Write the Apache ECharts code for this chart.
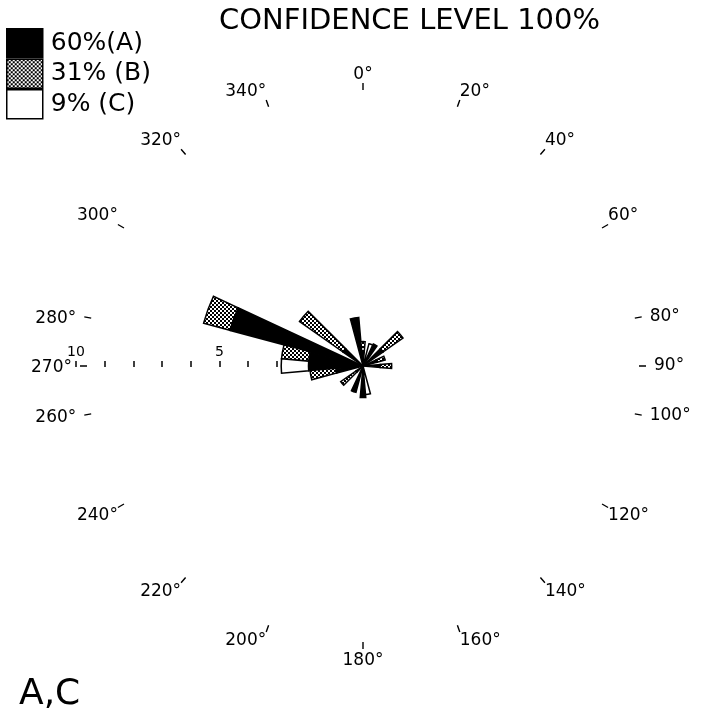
<!DOCTYPE html>
<html><head><meta charset="utf-8">
<script src="https://cdn.jsdelivr.net/npm/echarts@6/dist/echarts.min.js"></script>
<style>html,body{margin:0;padding:0;background:#fff}#c{width:701px;height:725px}</style>
</head><body><div id="c"></div>
<script>
// 10-degree direction classes (bin centres, degrees clockwise from north)
const binAngles = ['0','10','20','30','40','50','60','70','80','90','100','110','120','130','140','150','160','170',
  '180','190','200','210','220','230','240','250','260','270','280','290','300','310','320','330','340','350'];
// class lengths (radial scale units) for each category
const seriesA = [0.5,0,0,0.85,0,0.85,0,0.5,0,0.6, 0,0,0,0,0,0,0,0, 1.1,0,0.95,0,0,0.3,0,0,0.95,1.9,1.9,4.8, 0,0.85,0,0,0,1.7];
const seriesB = [0.35,0,0,0,0,0.85,0,0.3,0,0.4, 0,0,0,0,0,0,0,0, 0,0,0,0,0,0.65,0,0,0.9,0,0.95,0.95, 0,1.85,0,0,0,0];
const seriesC = [0,0,0.8,0,0,0,0,0,0,0, 0,0,0,0,0,0,0,1.0, 0,0,0,0,0,0,0,0,0,0.95,0,0, 0,0,0,0,0,0];
const seriesNames = ['60%(A)', '31% (B)', '9% (C)'];
const titleText = 'CONFIDENCE LEVEL 100%';
const panelText = 'A,C';
const compassLabels = [0,20,40,60,80,90,100,120,140,160,180,200,220,240,260,270,280,300,320,340];
const scaleMax = 10;
const scaleLabels = [5, 10];

// cross-hatch pattern
const pc = document.createElement('canvas');
pc.width = 4; pc.height = 4;
const px = pc.getContext('2d');
px.fillStyle = '#fff'; px.fillRect(0,0,4,4);
px.fillStyle = '#000';
px.fillRect(0,0,2,2); px.fillRect(2,2,2,2);
const hatch = {image: pc, repeat: 'repeat'};

const cx = 363, cy = 366, R = 287;
const toData = arr => arr.map(v => v === 0 ? '-' : v);
const fills = ['#000', hatch, '#fff'];
const vals = [seriesA, seriesB, seriesC];
const lf = {fontSize: 17, color: '#000', fontFamily: 'DejaVu Sans'};

const chart = echarts.init(document.getElementById('c'), null, {renderer: 'canvas'});
chart.setOption({
  animation: false,
  textStyle: {fontFamily: 'DejaVu Sans'},
  title: [
    {text: titleText, left: 214, top: 2, textStyle: {fontSize: 29, fontWeight: 'normal', color: '#000', fontFamily: 'DejaVu Sans'}},
    {text: panelText, left: 14, top: 672, textStyle: {fontSize: 36, fontWeight: 'normal', color: '#000', fontFamily: 'DejaVu Sans'}}
  ],
  legend: {
    orient: 'vertical', left: 6, top: 28, padding: 0, itemWidth: 36, itemHeight: 29, itemGap: 0,
    icon: 'rect', data: seriesNames,
    itemStyle: {borderColor: '#000', borderWidth: 1.5},
    textStyle: {fontSize: 25, color: '#000', fontFamily: 'DejaVu Sans', padding: [0,0,0,3]},
    selectedMode: false
  },
  polar: [
    {center: [cx, cy], radius: R},
    {center: [cx, cy], radius: 276}
  ],
  angleAxis: [
    {polarIndex: 0, type: 'category', data: binAngles, startAngle: 95, clockwise: true, boundaryGap: true,
      axisLine: {show: false}, axisTick: {show: false}, axisLabel: {show: false}, splitLine: {show: false}},
    {polarIndex: 1, type: 'value', min: 0, max: 360, interval: 10, startAngle: 90, clockwise: true,
      axisLine: {show: false}, splitLine: {show: false},
      axisTick: {show: true, length: 7, customValues: compassLabels, lineStyle: {color: '#000', width: 1.4}},
      axisLabel: {show: true, customValues: compassLabels, margin: 7, fontSize: 17, color: '#000',
        formatter: v => {
          if (v >= 80 && v <= 100) return '{r|' + v + '°}';
          if (v >= 260 && v <= 280) return '{l|' + v + '°}';
          if (v === 180) return '{b|' + v + '°}';
          return v + '°';
        },
        rich: {
          r: Object.assign({padding: [0, 0, 0, 8]}, lf),
          l: Object.assign({padding: [4, 8, 0, 0]}, lf),
          b: Object.assign({padding: [3, 0, 0, 0]}, lf)
        }}}
  ],
  radiusAxis: [
    {polarIndex: 0, min: 0, max: scaleMax, show: false},
    {polarIndex: 1, min: 0, max: 1, show: false}
  ],
  grid: {left: cx - R, width: R, top: cy, height: 1},
  xAxis: {type: 'value', min: 0, max: scaleMax, interval: 1, inverse: true, position: 'top',
    axisLine: {show: false}, splitLine: {show: false},
    axisTick: {show: true, length: 6, lineStyle: {color: '#000', width: 1.5}},
    axisLabel: {margin: 7, fontSize: 14, color: '#000',
      formatter: v => scaleLabels.indexOf(v) >= 0 ? String(v) : ''}},
  yAxis: {type: 'value', show: false, min: 0, max: 1},
  series: seriesNames.map((name, i) => ({
    name: name, type: 'bar', coordinateSystem: 'polar', polarIndex: 0, stack: 'rose',
    barCategoryGap: '0%', data: toData(vals[i]), z: 5,
    itemStyle: {color: fills[i], borderColor: '#000', borderWidth: 1.5}
  }))
});
</script></body></html>
